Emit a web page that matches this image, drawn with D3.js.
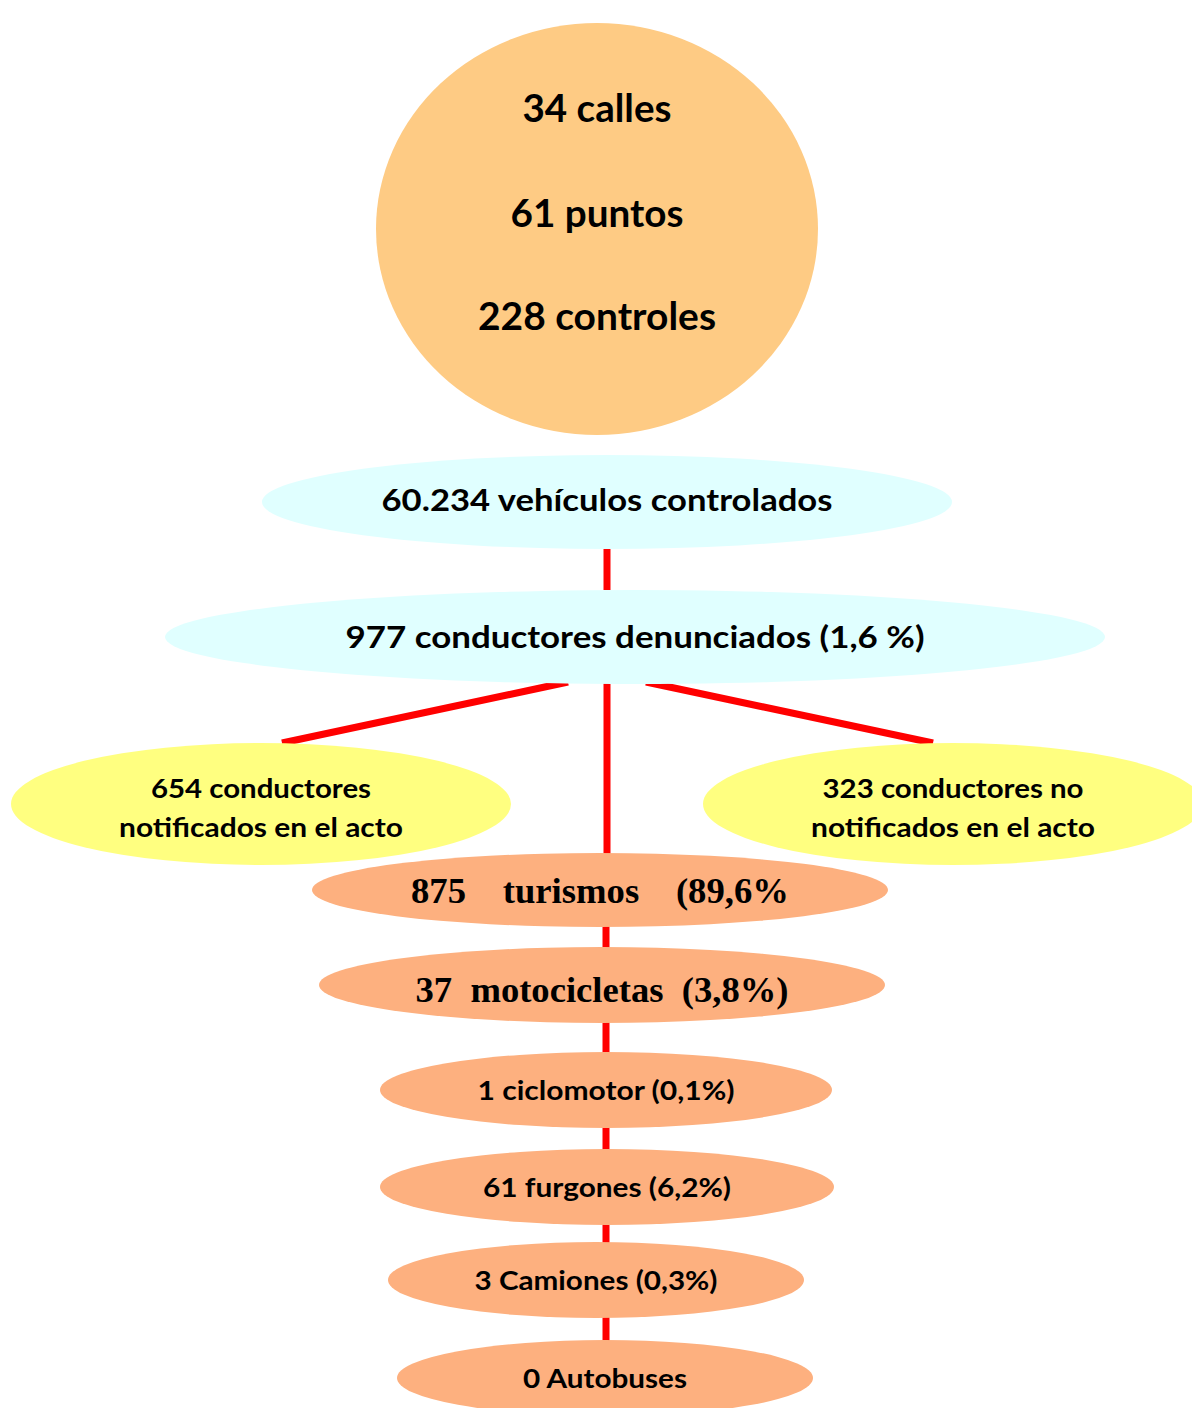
<!DOCTYPE html>
<html>
<head>
<meta charset="utf-8">
<script src="https://cdn.jsdelivr.net/npm/d3@7"></script>
<style>
  html, body { margin: 0; padding: 0; background: #ffffff; }
  svg { display: block; }
</style>
</head>
<body>
<script>
// ---------------- DATA ----------------
const summaryLines = ["34 calles", "61 puntos", "228 controles"];
const flowLabels = ["60.234 vehículos controlados", "977 conductores denunciados (1,6 %)"];
const notifLabels = [
  ["654 conductores", "notificados en el acto"],
  ["323 conductores no", "notificados en el acto"]
];
const vehicleLabels = [
  "875    turismos    (89,6%",
  "37  motocicletas  (3,8%)",
  "1 ciclomotor (0,1%)",
  "61 furgones (6,2%)",
  "3 Camiones (0,3%)",
  "0 Autobuses"
];
const vehicleSerif = [true, true, false, false, false, false];

// ---------------- LAYOUT ----------------
const W = 1192, H = 1408;
const colors = {
  circle: "#FECB84", cyan: "#E0FFFF", yellow: "#FFFF80",
  orange: "#FDB07F", red: "#FF0000", text: "#000000"
};
const sans = "Lato, 'Open Sans', sans-serif";
const serif = "'Liberation Serif', 'Times New Roman', serif";

const circleShape = {cx: 597, cy: 229, rx: 221, ry: 206};
const summaryText = [{y: 122, w: 149}, {y: 227, w: 173}, {y: 330, w: 238}];

const flowShapes = [
  {cx: 607, cy: 502, rx: 345, ry: 47, ty: 511, tw: 451},
  {cx: 635, cy: 637, rx: 470, ry: 47, ty: 648, tw: 579}
];
const notifShapes = [
  {cx: 261, cy: 804, rx: 250, ry: 61, ty: [798, 837], tw: [220, 284]},
  {cx: 953, cy: 804, rx: 250, ry: 61, ty: [798, 837], tw: [261, 284]}
];
const vehicleShapes = [
  {cx: 600, cy: 890, rx: 288, ry: 37, ty: 903, tw: 378},
  {cx: 602, cy: 985, rx: 283, ry: 38, ty: 1002, tw: 373},
  {cx: 606, cy: 1090, rx: 226, ry: 38, ty: 1100, tw: 257},
  {cx: 607, cy: 1187, rx: 227, ry: 38, ty: 1197, tw: 248},
  {cx: 596, cy: 1280, rx: 208, ry: 38, ty: 1290, tw: 243},
  {cx: 605, cy: 1378, rx: 208, ry: 38, ty: 1388, tw: 164}
];

const svg = d3.select("body").append("svg")
  .attr("width", W).attr("height", H)
  .attr("viewBox", `0 0 ${W} ${H}`);

// ---------------- CONNECTORS ----------------
const stem = 606;
const links = [];
links.push([607, flowShapes[0].cy + flowShapes[0].ry, 607, flowShapes[1].cy - flowShapes[1].ry]);
links.push([568, 682, 282, 743]);
links.push([646, 682, 933, 743]);
links.push([607, 682, 607, vehicleShapes[0].cy - vehicleShapes[0].ry + 3]);
for (let i = 0; i < vehicleShapes.length - 1; i++) {
  const a = vehicleShapes[i], b = vehicleShapes[i + 1];
  links.push([stem, a.cy + a.ry - 2, stem, b.cy - b.ry + 2]);
}
svg.append("g").selectAll("line").data(links).join("line")
  .attr("x1", d => d[0]).attr("y1", d => d[1])
  .attr("x2", d => d[2]).attr("y2", d => d[3])
  .attr("stroke", colors.red).attr("stroke-width", 7);

// ---------------- SHAPES ----------------
function fitText(sel, w) {
  sel.attr("textLength", w).attr("lengthAdjust", "spacingAndGlyphs");
}

// Top circle
svg.append("ellipse")
  .attr("cx", circleShape.cx).attr("cy", circleShape.cy)
  .attr("rx", circleShape.rx).attr("ry", circleShape.ry)
  .attr("fill", colors.circle);
svg.append("g").selectAll("text").data(summaryLines).join("text")
  .attr("x", circleShape.cx).attr("y", (d, i) => summaryText[i].y)
  .attr("text-anchor", "middle")
  .attr("font-family", sans).attr("font-weight", 700).attr("font-size", 39)
  .attr("fill", colors.text)
  .text(d => d)
  .each(function (d, i) { fitText(d3.select(this), summaryText[i].w); });

// Flow ellipses
const flowG = svg.append("g").selectAll("g").data(flowLabels).join("g");
flowG.append("ellipse")
  .attr("cx", (d, i) => flowShapes[i].cx).attr("cy", (d, i) => flowShapes[i].cy)
  .attr("rx", (d, i) => flowShapes[i].rx).attr("ry", (d, i) => flowShapes[i].ry)
  .attr("fill", colors.cyan);
flowG.append("text")
  .attr("x", (d, i) => flowShapes[i].cx).attr("y", (d, i) => flowShapes[i].ty)
  .attr("text-anchor", "middle")
  .attr("font-family", sans).attr("font-weight", 700).attr("font-size", 31)
  .attr("fill", colors.text)
  .text(d => d)
  .each(function (d, i) { fitText(d3.select(this), flowShapes[i].tw); });

// Notification ellipses
const notifG = svg.append("g").selectAll("g").data(notifLabels).join("g");
notifG.append("ellipse")
  .attr("cx", (d, i) => notifShapes[i].cx).attr("cy", (d, i) => notifShapes[i].cy)
  .attr("rx", (d, i) => notifShapes[i].rx).attr("ry", (d, i) => notifShapes[i].ry)
  .attr("fill", colors.yellow);
notifG.each(function (lines, i) {
  const s = notifShapes[i];
  d3.select(this).selectAll("text").data(lines).join("text")
    .attr("x", s.cx).attr("y", (d, j) => s.ty[j])
    .attr("text-anchor", "middle")
    .attr("font-family", sans).attr("font-weight", 700).attr("font-size", 26)
    .attr("fill", colors.text)
    .text(d => d)
    .each(function (d, j) { fitText(d3.select(this), s.tw[j]); });
});

// Vehicle ellipses
const vehG = svg.append("g").selectAll("g").data(vehicleLabels).join("g");
vehG.append("ellipse")
  .attr("cx", (d, i) => vehicleShapes[i].cx).attr("cy", (d, i) => vehicleShapes[i].cy)
  .attr("rx", (d, i) => vehicleShapes[i].rx).attr("ry", (d, i) => vehicleShapes[i].ry)
  .attr("fill", colors.orange);
vehG.append("text")
  .attr("x", (d, i) => vehicleShapes[i].cx).attr("y", (d, i) => vehicleShapes[i].ty)
  .attr("text-anchor", "middle")
  .attr("xml:space", "preserve")
  .style("white-space", "pre")
  .attr("font-family", (d, i) => vehicleSerif[i] ? serif : sans)
  .attr("font-weight", 700)
  .attr("font-size", (d, i) => vehicleSerif[i] ? 35 : 26)
  .attr("fill", colors.text)
  .text(d => d)
  .each(function (d, i) { fitText(d3.select(this), vehicleShapes[i].tw); });
</script>
</body>
</html>
